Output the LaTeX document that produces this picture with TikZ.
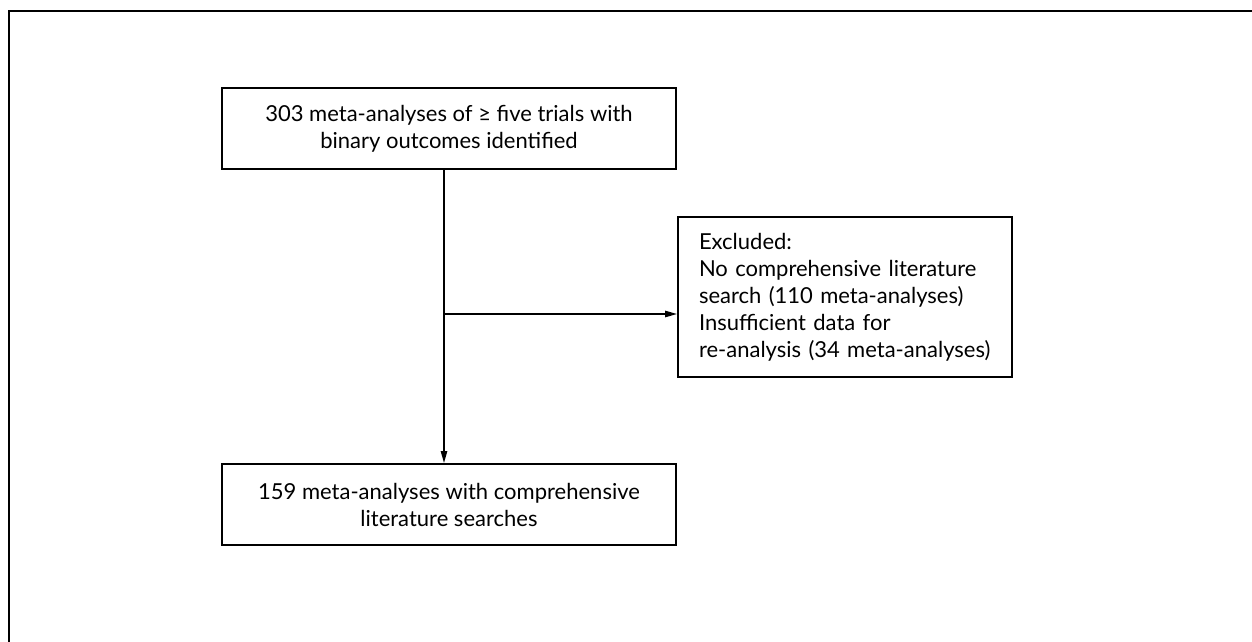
\documentclass[tikz,border=0pt]{standalone}
\usepackage{fontspec}
\setmainfont{Lato}
\usetikzlibrary{arrows.meta}

\tikzset{
	flowbox/.style={draw,line width=1pt,minimum width=227pt,minimum height=40.5pt,inner sep=0pt,align=center,font=\fontsize{11}{13.5}\selectfont},
	exclbox/.style={draw,line width=1pt,minimum width=167pt,minimum height=80pt,inner xsep=10.5pt,inner ysep=0pt,align=left,text width=146pt,font=\fontsize{11}{13.5}\selectfont},
	link/.style={line width=0.75pt}
}

\begin{document}
\begin{tikzpicture}[line cap=butt,line join=miter,>={Triangle[length=6pt,width=3.2pt]},x=0.5pt,y=-0.5pt]
		\useasboundingbox (0,0) rectangle (1252,642);
		\draw [line width=1pt] (8.5,642)-- (8.5,11.5)-- (1252,11.5);
		\node[flowbox] (found) at (449,128.5) {303 meta-analyses of ≥ five trials with\\binary outcomes identified};
		\node[exclbox] (excl) at (845,297) {Excluded:\\No comprehensive literature\\search (110 meta-analyses)\\Insufficient data for\\re-analysis (34 meta-analyses)};
		\node[flowbox] (kept) at (449,504.5) {159 meta-analyses with comprehensive\\literature searches};
		\coordinate (split) at (444,314);
		\draw [link,->] (found.south -| split)-- (kept.north -| split);
		\draw [link,->] (split)-- (split -| excl.west);
	\end{tikzpicture}
\end{document}
